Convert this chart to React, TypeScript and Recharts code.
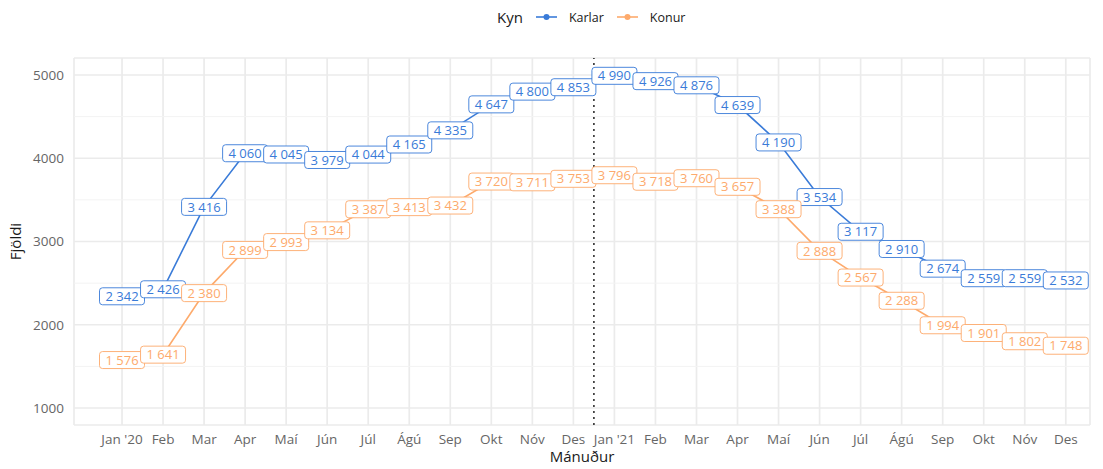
import { LineChart, Line, XAxis, YAxis, CartesianGrid, ReferenceLine, LabelList, Label } from "recharts";

// Fjöldi eftir mánuðum, jan 2020 - des 2021
const months = ["Jan '20", "Feb", "Mar", "Apr", "Maí", "Jún", "Júl", "Ágú", "Sep", "Okt", "Nóv", "Des",
  "Jan '21", "Feb", "Mar", "Apr", "Maí", "Jún", "Júl", "Ágú", "Sep", "Okt", "Nóv", "Des"];
const karlar = [2342, 2426, 3416, 4060, 4045, 3979, 4044, 4165, 4335, 4647, 4800, 4853,
  4990, 4926, 4876, 4639, 4190, 3534, 3117, 2910, 2674, 2559, 2559, 2532];
const konur = [1576, 1641, 2380, 2899, 2993, 3134, 3387, 3413, 3432, 3720, 3711, 3753,
  3796, 3718, 3760, 3657, 3388, 2888, 2567, 2288, 1994, 1901, 1802, 1748];
const yTicks = [1000, 2000, 3000, 4000, 5000];
const yMinor = [1500, 2500, 3500, 4500];
const yearBreak = 11.5;

const BLUE = "#3a7bd8";
const ORANGE = "#fdaa6c";
const FONT = "'Open Sans', sans-serif";

const data = months.map((m, i) => ({ i, month: m, Karlar: karlar[i], Konur: konur[i] }));

const fmt = (v: number) => String(v).replace(/\B(?=(\d{3})+(?!\d))/g, " ");

const boxLabel = (color: string) => (props: any) => {
  const { x, y, value } = props;
  if (value == null) return null;
  const txt = fmt(value);
  const w = txt.length * 7.4 + 8;
  return (
    <g>
      <rect x={x - w / 2} y={y - 8.5} width={w} height={17} rx={3} fill="#fff" stroke={color} strokeWidth={1} strokeOpacity={0.9} />
      <text x={x} y={y} dy="0.36em" textAnchor="middle" fill={color} fontSize={13} fontFamily={FONT}>{txt}</text>
    </g>
  );
};

const TopLegend = () => (
  <div style={{ position: "absolute", left: 497, top: 0, display: "flex", alignItems: "center", fontFamily: FONT, color: "#1a1a1a", height: 34 }}>
    <span style={{ fontSize: 15, marginRight: 13 }}>Kyn</span>
    {[["Karlar", BLUE], ["Konur", ORANGE]].map(([name, c]) => (
      <span key={name} style={{ display: "flex", alignItems: "center", marginRight: 13 }}>
        <svg width={21} height={10} style={{ marginRight: 12 }}>
          <line x1={0} y1={5} x2={21} y2={5} stroke={c} strokeWidth={1.6} />
          <circle cx={10.5} cy={5} r={3} fill={c} />
        </svg>
        <span style={{ fontSize: 12.5 }}>{name}</span>
      </span>
    ))}
  </div>
);

export default function App() {
  return (
    <div style={{ position: "absolute", left: 0, top: 0, width: 1103, height: 469, background: "#fff" }}>
      <TopLegend />
      <LineChart width={1103} height={469} data={data} margin={{ top: 58, right: 13, bottom: 0, left: 0 }}>
        {yMinor.map(v => (
          <ReferenceLine key={v} y={v} stroke="#f3f3f3" strokeWidth={1} />
        ))}
        <CartesianGrid stroke="#ebebeb" strokeWidth={1.7} />
        <XAxis
          dataKey="i"
          type="number"
          domain={[-1.17, 23.59]}
          ticks={months.map((_, i) => i)}
          tickFormatter={(v: number) => months[v] ?? ""}
          axisLine={false}
          tickLine={false}
          interval={0}
          height={44}
          tick={{ fill: "#666", fontSize: 13.5, fontFamily: FONT }}
          tickMargin={3}
        >
          <Label value="Mánuður" position="insideBottom" offset={7} fill="#1a1a1a" fontSize={15} fontFamily={FONT} />
        </XAxis>
        <YAxis
          type="number"
          domain={[796, 5204]}
          ticks={yTicks}
          axisLine={false}
          tickLine={false}
          width={74}
          tick={{ fill: "#666", fontSize: 13.5, fontFamily: FONT }}
          tickMargin={4}
        >
          <Label value="Fjöldi" angle={-90} position="insideLeft" offset={16} fill="#1a1a1a" fontSize={15} fontFamily={FONT} style={{ textAnchor: "middle" }} />
        </YAxis>
        <ReferenceLine x={yearBreak} stroke="#222" strokeWidth={1.5} strokeDasharray="2 4" />
        <Line type="linear" dataKey="Karlar" stroke={BLUE} strokeWidth={1.6} dot={false} isAnimationActive={false}>
          <LabelList dataKey="Karlar" content={boxLabel(BLUE)} />
        </Line>
        <Line type="linear" dataKey="Konur" stroke={ORANGE} strokeWidth={1.6} dot={false} isAnimationActive={false}>
          <LabelList dataKey="Konur" content={boxLabel(ORANGE)} />
        </Line>
      </LineChart>
    </div>
  );
}
